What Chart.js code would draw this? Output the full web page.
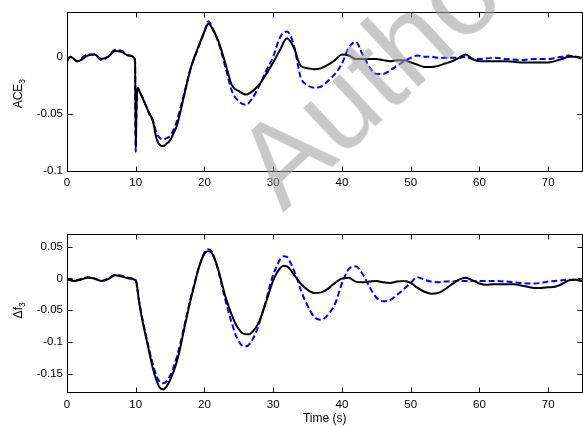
<!DOCTYPE html>
<html>
<head>
<meta charset="utf-8">
<script src="https://cdn.jsdelivr.net/npm/chart.js@4/dist/chart.umd.min.js"></script>
<style>
  html, body { margin: 0; padding: 0; background: #fff; }
  #wrap { position: relative; width: 583px; height: 427px; overflow: hidden; background: #fff; }
  .panel { position: absolute; left: 0; width: 583px; }
  #mark {
    position: absolute; left: 283px; top: 113px;
    font: 118px "Liberation Sans", Arial, sans-serif; line-height: 1;
    color: rgba(160, 160, 160, 0.58); white-space: nowrap; pointer-events: none;
    transform-origin: 0 100px; transform: rotate(-43deg);
  }
</style>
</head>
<body>
<div id="wrap">
  <div class="panel" style="top:0;height:200px"><canvas id="aceChart" width="583" height="200"></canvas></div>
  <div class="panel" style="top:220px;height:207px"><canvas id="freqChart" width="583" height="207"></canvas></div>
  <div id="mark">Author</div>
</div>
<script>
// ---- data ----
const xTicks = [0, 10, 20, 30, 40, 50, 60, 70];
const xTickLabels = ['0', '10', '20', '30', '40', '50', '60', '70'];

const aceTicks = [-0.1, -0.05, 0];
const aceTickLabels = ['-0.1', '-0.05', '0'];
const freqTicks = [-0.15, -0.1, -0.05, 0, 0.05];
const freqTickLabels = ['-0.15', '-0.1', '-0.05', '0', '0.05'];

// ACE3 panel
const aceTime = [0, 0.5, 1, 1.5, 2, 3, 4, 5, 6, 7, 8, 9,
  9.9, 10, 10.1, 10.3, 10.6,
  11, 11.5, 12, 12.5, 13, 13.5, 14, 14.5, 15, 15.5, 16,
  17, 18, 19, 20, 20.6,
  21, 22, 23, 24, 25, 26, 27, 28, 29, 30,
  31, 32, 33, 34, 35, 36, 37, 38, 39, 40,
  41, 42, 43, 44, 45, 46, 47, 48, 49, 50,
  51, 52, 53, 54, 55, 56, 57, 58, 59, 60,
  62, 64, 66, 68, 70, 72, 73, 74, 75];
const aceSolid = [-0.004, 0.000, -0.002, -0.004, -0.003, 0.001, 0.002, -0.002, 0.000, 0.005, 0.004, 0.001,
  -0.002, -0.080, -0.045, -0.027, -0.031,
  -0.036, -0.043, -0.050, -0.056, -0.071, -0.077, -0.078, -0.076, -0.073, -0.067, -0.060,
  -0.035, -0.010, 0.007, 0.022, 0.029,
  0.026, 0.014, -0.005, -0.025, -0.030, -0.033, -0.030, -0.024, -0.015, -0.005,
  0.006, 0.016, 0.008, -0.008, -0.010, -0.011, -0.010, -0.007, -0.003, 0.002,
  0.001, -0.002, -0.002, -0.002, -0.002, -0.003, -0.004, -0.003, -0.003, -0.005,
  -0.007, -0.009, -0.009, -0.008, -0.006, -0.004, -0.001, 0.002, -0.002, -0.004,
  -0.004, -0.004, -0.005, -0.005, -0.005, -0.002, 0.000, 0.000, -0.001];
const aceDashed = [-0.003, 0.000, -0.002, -0.004, -0.002, 0.002, 0.002, -0.003, 0.000, 0.006, 0.005, 0.001,
  -0.003, -0.083, -0.048, -0.028, -0.031,
  -0.036, -0.043, -0.050, -0.056, -0.066, -0.071, -0.072, -0.071, -0.069, -0.064, -0.056,
  -0.033, -0.010, 0.006, 0.022, 0.031,
  0.027, 0.013, -0.008, -0.030, -0.039, -0.042, -0.036, -0.025, -0.012, 0.000,
  0.017, 0.022, 0.010, -0.018, -0.025, -0.027, -0.026, -0.021, -0.015, -0.006,
  0.008, 0.013, 0.002, -0.009, -0.015, -0.015, -0.012, -0.008, -0.004, -0.001,
  0.001, 0.000, 0.000, -0.001, -0.001, -0.001, -0.001, 0.000, -0.002, -0.002,
  -0.001, -0.002, -0.003, -0.002, -0.002, 0.000, 0.001, 0.000, -0.002];

// delta f3 panel
const freqTime = [0, 1, 2, 3, 4, 5, 6, 7, 8, 9, 10,
  10.5, 11, 11.5, 12, 12.5, 13, 13.5, 14, 14.5, 15,
  15.5, 16, 16.5, 17, 17.5, 18, 18.5, 19, 19.5, 20,
  20.5, 21, 21.5, 22, 22.5, 23, 23.5, 24, 24.5, 25,
  25.5, 26, 26.5, 27, 27.5, 28, 28.5, 29, 29.5, 30,
  30.5, 31, 31.5, 32, 32.5, 33, 33.5,
  34, 35, 36, 37, 38, 39, 40, 41, 42, 43,
  44, 45, 46, 47, 48, 49, 50, 51, 52, 53,
  54, 55, 56, 57, 58, 59, 60, 61, 62,
  64, 65, 66, 67, 68, 69, 70, 71, 72, 73, 74, 75];
const freqSolid = [-0.001, -0.004, -0.002, 0.001, 0.000, -0.004, -0.001, 0.005, 0.003, 0.000, -0.003,
  -0.038, -0.068, -0.093, -0.118, -0.142, -0.160, -0.172, -0.175, -0.170, -0.160,
  -0.147, -0.130, -0.108, -0.082, -0.057, -0.033, -0.012, 0.010, 0.027, 0.039,
  0.043, 0.041, 0.030, 0.014, -0.006, -0.027, -0.043, -0.058, -0.071, -0.080,
  -0.086, -0.088, -0.088, -0.084, -0.077, -0.067, -0.052, -0.036, -0.019, -0.003,
  0.008, 0.016, 0.020, 0.019, 0.014, 0.006, -0.001,
  -0.008, -0.018, -0.023, -0.022, -0.016, -0.007, 0.000, 0.001, -0.005, -0.006,
  -0.005, -0.004, -0.006, -0.007, -0.005, -0.004, -0.007, -0.015, -0.021, -0.024,
  -0.023, -0.017, -0.009, -0.002, 0.001, -0.003, -0.008, -0.010, -0.009,
  -0.009, -0.009, -0.011, -0.013, -0.015, -0.015, -0.014, -0.013, -0.009, -0.003, -0.002, -0.004];
const freqDashed = [-0.001, -0.003, -0.001, 0.002, 0.000, -0.004, 0.000, 0.006, 0.004, 0.001, -0.003,
  -0.036, -0.065, -0.090, -0.114, -0.136, -0.153, -0.163, -0.165, -0.162, -0.153,
  -0.140, -0.123, -0.102, -0.078, -0.054, -0.031, -0.010, 0.011, 0.028, 0.041,
  0.046, 0.043, 0.031, 0.013, -0.010, -0.032, -0.053, -0.071, -0.088, -0.099,
  -0.106, -0.107, -0.104, -0.096, -0.085, -0.070, -0.052, -0.033, -0.012, 0.006,
  0.019, 0.030, 0.035, 0.034, 0.025, 0.013, -0.001,
  -0.018, -0.043, -0.061, -0.065, -0.057, -0.040, -0.008, 0.015, 0.019, 0.007,
  -0.013, -0.030, -0.036, -0.034, -0.026, -0.017, -0.007, 0.002, -0.002, -0.005,
  -0.006, -0.005, -0.005, -0.004, -0.004, -0.004, -0.004, -0.004, -0.004,
  -0.005, -0.006, -0.007, -0.008, -0.008, -0.007, -0.005, -0.004, -0.003, -0.002, -0.002, -0.004];

// ---- drawing ----
const FONT = '"Liberation Sans", Arial, Helvetica, sans-serif';

function toPoints(xs, ys) {
  return xs.map((x, i) => ({ x: x, y: ys[i] }));
}

// matlab style box with inward ticks on all four sides
const boxPlugin = {
  id: 'boxPlugin',
  afterDraw(chart) {
    const { ctx, chartArea: a, scales } = chart;
    const L = Math.floor(a.left) + 0.5, R = Math.floor(a.right) + 0.5;
    const T = Math.floor(a.top) + 0.5, B = Math.floor(a.bottom) + 0.5;
    ctx.save();
    ctx.strokeStyle = '#000';
    ctx.lineWidth = 1;
    ctx.strokeRect(L, T, R - L, B - T);
    ctx.beginPath();
    scales.x.ticks.forEach(t => {
      const px = Math.round(scales.x.getPixelForValue(t.value)) + 0.5;
      ctx.moveTo(px, B); ctx.lineTo(px, B - 5);
      ctx.moveTo(px, T); ctx.lineTo(px, T + 5);
    });
    scales.y.ticks.forEach(t => {
      const py = Math.round(scales.y.getPixelForValue(t.value)) + 0.5;
      ctx.moveTo(L, py); ctx.lineTo(L + 5, py);
      ctx.moveTo(R, py); ctx.lineTo(R - 5, py);
    });
    ctx.stroke();
    ctx.restore();
  }
};

// rotated y label with a real subscript
const yLabelPlugin = {
  id: 'yLabel',
  afterDraw(chart, args, opts) {
    const { ctx, chartArea: a } = chart;
    const main = opts.main, sub = opts.sub;
    ctx.save();
    ctx.fillStyle = '#000';
    ctx.textBaseline = 'alphabetic';
    ctx.font = '12px ' + FONT;
    const wMain = ctx.measureText(main).width;
    ctx.font = '8.5px ' + FONT;
    const wSub = ctx.measureText(sub).width;
    const cy = (a.top + a.bottom) / 2 + (opts.shift || 0);
    ctx.translate(opts.baseX, cy);
    ctx.rotate(-Math.PI / 2);
    const x0 = -(wMain + wSub) / 2;
    ctx.font = '12px ' + FONT;
    ctx.fillText(main, x0, 0);
    ctx.font = '8.5px ' + FONT;
    ctx.fillText(sub, x0 + wMain, 3);
    ctx.restore();
  }
};

function makePanel(canvasId, opts) {
  return new Chart(document.getElementById(canvasId), {
    type: 'line',
    data: {
      datasets: [
        {
          data: toPoints(opts.time, opts.solid),
          borderColor: '#000000',
          borderWidth: 2,
          pointRadius: 0,
          cubicInterpolationMode: 'monotone'
        },
        {
          data: toPoints(opts.time, opts.dashed),
          borderColor: '#0000ff',
          borderWidth: 2,
          borderDash: [6, 3],
          pointRadius: 0,
          cubicInterpolationMode: 'monotone'
        }
      ]
    },
    options: {
      responsive: false,
      animation: false,
      events: [],
      layout: { padding: { top: opts.padTop, right: 0.5, left: 0, bottom: 0 } },
      plugins: {
        legend: { display: false },
        tooltip: { enabled: false },
        yLabel: { main: opts.yMain, sub: opts.ySub, baseX: 22, shift: opts.yShift }
      },
      scales: {
        x: {
          type: 'linear',
          min: 0,
          max: 75,
          afterBuildTicks: s => { s.ticks = xTicks.map(v => ({ value: v })); },
          afterFit: s => { s.height = opts.xAxisHeight; },
          grid: { display: false, drawTicks: false },
          border: { display: false },
          ticks: {
            autoSkip: false,
            maxRotation: 0,
            padding: 5,
            color: '#000',
            font: { family: FONT, size: 11.5 },
            callback: (v, i) => xTickLabels[i]
          },
          title: {
            display: !!opts.xTitle,
            text: opts.xTitle || '',
            color: '#000',
            font: { family: FONT, size: 12 },
            padding: { top: 0, bottom: 1 }
          }
        },
        y: {
          type: 'linear',
          min: opts.yMin,
          max: opts.yMax,
          afterBuildTicks: s => { s.ticks = opts.yTicks.map(v => ({ value: v })); },
          afterFit: s => { s.width = 67; },
          grid: { display: false, drawTicks: false },
          border: { display: false },
          ticks: {
            padding: 4,
            color: '#000',
            font: { family: FONT, size: 11.5 },
            callback: (v, i) => opts.yTickLabels[i]
          }
        }
      }
    },
    plugins: [boxPlugin, yLabelPlugin]
  });
}

makePanel('aceChart', {
  time: aceTime, solid: aceSolid, dashed: aceDashed,
  yMin: -0.1, yMax: 0.039, yTicks: aceTicks, yTickLabels: aceTickLabels,
  yMain: 'ACE', ySub: '3', yShift: 2, padTop: 12, xAxisHeight: 28.7
});

makePanel('freqChart', {
  time: freqTime, solid: freqSolid, dashed: freqDashed,
  yMin: -0.18, yMax: 0.07, yTicks: freqTicks, yTickLabels: freqTickLabels,
  yMain: '\u0394f', ySub: '3', yShift: -3, xTitle: 'Time (s)', padTop: 14, xAxisHeight: 34.3
});
</script>
</body>
</html>
